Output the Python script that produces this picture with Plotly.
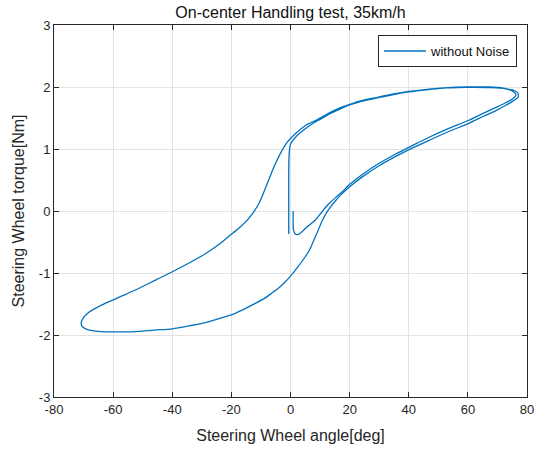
import plotly.graph_objects as go

# ---- data ----
angle_deg = [
    0.9, 0.9, 1.0, 1.6, 2.4, 3.5, 5.1, 6.8, 8.5, 10.2, 11.9, 13.5, 15.3, 17.5,
    20, 24.3, 30, 35.6, 41, 46.9, 53, 60.1, 65, 69.5, 73, 75.2, 76.2, 76.0, 74.8, 72,
    67, 60, 53, 46, 40, 34, 28, 24, 20, 16.5, 13, 10.5, 8.5, 5.1, 1.7, -1.1, -3.4,
    -5.6, -7.9, -10.7, -14.1, -17.5, -20.9, -24.5, -28.8, -34, -40, -45.5, -51.4,
    -57, -62.7, -66, -68.4, -70.0, -70.8, -70.5, -69.3, -67, -63, -60.5, -56, -51.4,
    -46, -40, -34, -28.8, -24.5, -20.3, -16, -11.9, -8.8, -6.2, -3.5, -1.5, 0, 2.5,
    5.1, 6.5, 7.9, 9.3, 10.6, 11.9, 13.3, 15.3, 17.5,
    20, 24.3, 30, 35.6, 41, 46.9, 53, 60.1, 65, 69.5, 73, 75.5, 77.0, 77.0, 75.8, 73,
    68, 60, 53, 46, 40, 34, 28, 24, 20, 16.5, 13, 10.5, 8.5, 5.1, 1.7, 0, -0.4,
    -0.55, -0.6, -0.6, -0.6,
]
torque_nm = [
    0.0, -0.15, -0.30, -0.37, -0.38, -0.35, -0.28, -0.21, -0.14, -0.04, 0.06, 0.14, 0.22, 0.31,
    0.43, 0.59, 0.77, 0.92, 1.05, 1.19, 1.32, 1.46, 1.57, 1.67, 1.75, 1.81, 1.86, 1.90, 1.94, 1.98,
    2.0, 2.0, 1.99, 1.96, 1.93, 1.88, 1.82, 1.78, 1.72, 1.66, 1.58, 1.51, 1.46, 1.38, 1.25, 1.11, 0.93,
    0.71, 0.44, 0.12, -0.12, -0.28, -0.41, -0.55, -0.69, -0.83, -0.98, -1.11, -1.25,
    -1.37, -1.49, -1.57, -1.64, -1.72, -1.80, -1.86, -1.90, -1.93, -1.95, -1.95, -1.95, -1.94,
    -1.92, -1.90, -1.85, -1.80, -1.74, -1.68, -1.59, -1.49, -1.41, -1.32, -1.22, -1.13, -1.05, -0.90,
    -0.73, -0.62, -0.47, -0.32, -0.17, -0.05, 0.05, 0.17, 0.28,
    0.39, 0.55, 0.73, 0.88, 1.01, 1.14, 1.27, 1.41, 1.52, 1.62, 1.71, 1.78, 1.84, 1.89, 1.94, 1.97,
    1.99, 1.995, 1.985, 1.955, 1.92, 1.87, 1.81, 1.77, 1.71, 1.64, 1.56, 1.49, 1.44, 1.33, 1.19, 1.08, 0.95,
    0.8, 0.5, 0.0, -0.37,
]

x_tick_vals = [-80, -60, -40, -20, 0, 20, 40, 60, 80]
x_tick_text = ["-80", "-60", "-40", "-20", "0", "20", "40", "60", "80"]
y_tick_vals = [-3, -2, -1, 0, 1, 2, 3]
y_tick_text = ["-3", "-2", "-1", "0", "1", "2", "3"]

FONT = "Liberation Sans, Arial, sans-serif"
TXT = "#262626"

fig = go.Figure()
fig.add_trace(go.Scatter(
    x=angle_deg, y=torque_nm, mode="lines", name="without Noise",
    line=dict(color="#0072BD", width=1.3, shape="spline", smoothing=0.8),
))

axis_common = dict(
    showline=True, linecolor=TXT, linewidth=1, mirror="ticks",
    ticks="inside", ticklen=5, tickcolor=TXT, tickwidth=1,
    showgrid=True, gridcolor="#e3e3e3", gridwidth=1, zeroline=False,
    tickfont=dict(family=FONT, size=13, color=TXT), automargin=False,
)

fig.update_layout(
    width=544, height=449,
    margin=dict(l=54, r=17, t=25, b=52),
    paper_bgcolor="white", plot_bgcolor="white",
    font=dict(family=FONT, color=TXT),
    title=dict(text="On-center Handling test, 35km/h", x=0.5, xref="paper",
               y=1 - 12 / 449, yref="container", yanchor="middle",
               font=dict(family=FONT, size=16, color="#111111")),
    xaxis=dict(range=[-80, 80], tickvals=x_tick_vals, ticktext=x_tick_text,
               title=dict(text="Steering Wheel angle[deg]", standoff=14,
                          font=dict(family=FONT, size=16, color=TXT)),
               **axis_common),
    yaxis=dict(range=[-3, 3], tickvals=y_tick_vals, ticktext=y_tick_text,
               title=dict(text="Steering Wheel torque[Nm]", standoff=10,
                          font=dict(family=FONT, size=16, color=TXT)),
               **axis_common),
    showlegend=True,
    legend=dict(x=0.979, y=0.973, xanchor="right", yanchor="top",
                bgcolor="white", bordercolor=TXT, borderwidth=1,
                font=dict(family=FONT, size=13, color="#111111"),
                tracegroupgap=0, itemwidth=42),
)

fig.write_html("out.html")
